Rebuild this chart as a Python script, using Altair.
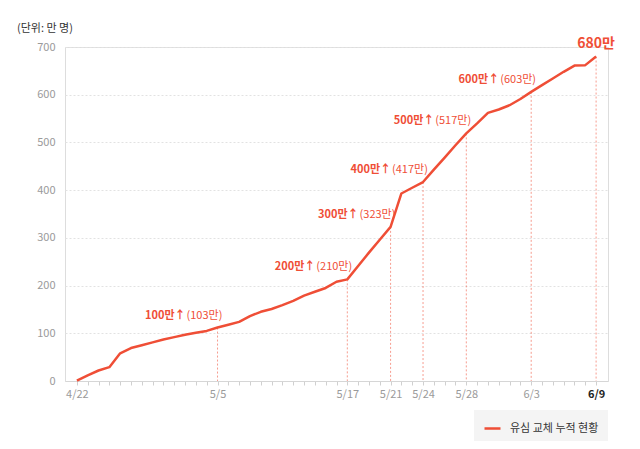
import altair as alt
import pandas as pd

# ---- data ----
dates = ["4/22", "4/23", "4/24", "4/25", "4/26", "4/27", "4/28", "4/29", "4/30",
         "5/1", "5/2", "5/3", "5/4", "5/5", "5/6", "5/7", "5/8", "5/9", "5/10",
         "5/11", "5/12", "5/13", "5/14", "5/15", "5/16", "5/17", "5/18", "5/19",
         "5/20", "5/21", "5/22", "5/23", "5/24", "5/25", "5/26", "5/27", "5/28",
         "5/29", "5/30", "5/31", "6/1", "6/2", "6/3", "6/4", "6/5", "6/6", "6/7",
         "6/8", "6/9"]
values = [1, 12, 22, 29, 58, 69, 75, 81, 87,
          92, 97, 101, 105, 112, 118, 124, 136, 145, 151,
          159, 168, 179, 187, 195, 208, 213, 241, 269,
          296, 323, 393, 405, 417, 443, 468, 494, 519,
          540, 562, 569, 578, 591, 606, 620, 634, 648, 661,
          662, 680]
series_name = "유심 교체 누적 현황"
milestone_dates = ["5/5", "5/17", "5/21", "5/24", "5/28", "6/3"]
milestone_main = ["100만↑", "200만↑", "300만↑", "400만↑", "500만↑", "600만↑"]
milestone_sub = ["(103만)", "(210만)", "(323만)", "(417만)", "(517만)", "(603만)"]
axis_label_dates = ["4/22", "5/5", "5/17", "5/21", "5/24", "5/28", "6/3", "6/9"]
final_date = "6/9"
final_label = "680만"
y_ticks = [0, 100, 200, 300, 400, 500, 600, 700]

RED = "#ef4e36"
FONT = "Noto Sans CJK KR"

df = pd.DataFrame({"day": list(range(len(dates))), "date": dates, "value": values,
                   "series": series_name})
idx = {d: i for i, d in enumerate(dates)}
ms = pd.DataFrame({
    "day": [idx[d] for d in milestone_dates],
    "value": [values[idx[d]] for d in milestone_dates],
    "main": milestone_main,
    "sub": milestone_sub,
})
rules = pd.DataFrame({
    "day": [idx[d] for d in milestone_dates + [final_date]],
    "value": [values[idx[d]] for d in milestone_dates + [final_date]],
})
fin = pd.DataFrame({"day": [idx[final_date]], "value": [values[idx[final_date]]],
                    "label": [final_label]})

label_arr = [d if d in axis_label_dates else "" for d in dates]
label_expr = "[" + ",".join("'" + s + "'" for s in label_arr) + "][datum.value]"
last = idx[final_date]

xscale = alt.Scale(domain=[-1.1, 49.1], nice=False, zero=False)
yscale = alt.Scale(domain=[0, 700], nice=False)

x_axis = alt.Axis(values=list(range(len(dates))), tickCount=100, labelExpr=label_expr, title=None,
                  grid=False, domainColor="#d6d6d6", tickColor="#d0d0d0", tickSize=4,
                  labelFontSize=11, labelPadding=3, labelFont=FONT,
                  labelColor={"expr": f"datum.value == {last} ? '#222' : '#9a9a9a'"},
                  labelFontWeight={"expr": f"datum.value == {last} ? 'bold' : 'normal'"},
                  labelFlush=False, labelOverlap=False)
y_axis = alt.Axis(values=y_ticks, title=None, domain=False, ticks=False,
                  labelFontSize=11, labelColor="#9a9a9a", labelPadding=10, labelFont=FONT,
                  grid=True, gridColor="#e2e2e2", gridDash=[2, 2])

base_x = alt.X("day:Q", scale=xscale, axis=x_axis)
base_y = alt.Y("value:Q", scale=yscale, axis=y_axis)

line = alt.Chart(df).mark_line(strokeWidth=2.5, strokeJoin="round").encode(
    x=base_x, y=base_y,
    color=alt.Color("series:N",
                    scale=alt.Scale(domain=[series_name], range=[RED]),
                    legend=alt.Legend(orient="none", legendX=409, legendY=363, title=None,
                                      fillColor="#f4f4f4", padding=9,
                                      symbolType="stroke", symbolSize=256,
                                      symbolStrokeWidth=2.5, labelFontSize=11,
                                      labelColor="#333", labelFont=FONT, labelOffset=8))
)

rule = alt.Chart(rules).mark_rule(color=RED, strokeWidth=0.8, strokeDash=[2, 2], opacity=0.7).encode(
    x="day:Q", y="value:Q", y2=alt.datum(0)
)

t_main = alt.Chart(ms).mark_text(align="right", baseline="middle", dx=-32, dy=-12,
                                 fontSize=11, fontWeight="bold", color=RED, font=FONT).encode(
    x="day:Q", y="value:Q", text="main:N")
t_sub = alt.Chart(ms).mark_text(align="left", baseline="middle", dx=-31, dy=-12,
                                fontSize=11, color=RED, font=FONT).encode(
    x="day:Q", y="value:Q", text="sub:N")
t_fin = alt.Chart(fin).mark_text(align="center", baseline="middle", dy=-13,
                                 fontSize=14, fontWeight="bold", color=RED, font=FONT).encode(
    x="day:Q", y="value:Q", text="label:N")

chart = alt.layer(rule, line, t_main, t_sub, t_fin).properties(
    width=543, height=334,
    title=alt.TitleParams("(단위: 만 명)", anchor="start", frame="group", dx=-48,
                          fontSize=11, fontWeight="normal", color="#333", offset=3, font=FONT),
    autosize=alt.AutoSizeParams(type="none"),
    padding={"left": 57, "top": 39, "right": 16, "bottom": 60},
).configure_view(stroke=None).configure(background="white")

chart.save("out.html", embed_options={"renderer": "svg", "actions": False})
